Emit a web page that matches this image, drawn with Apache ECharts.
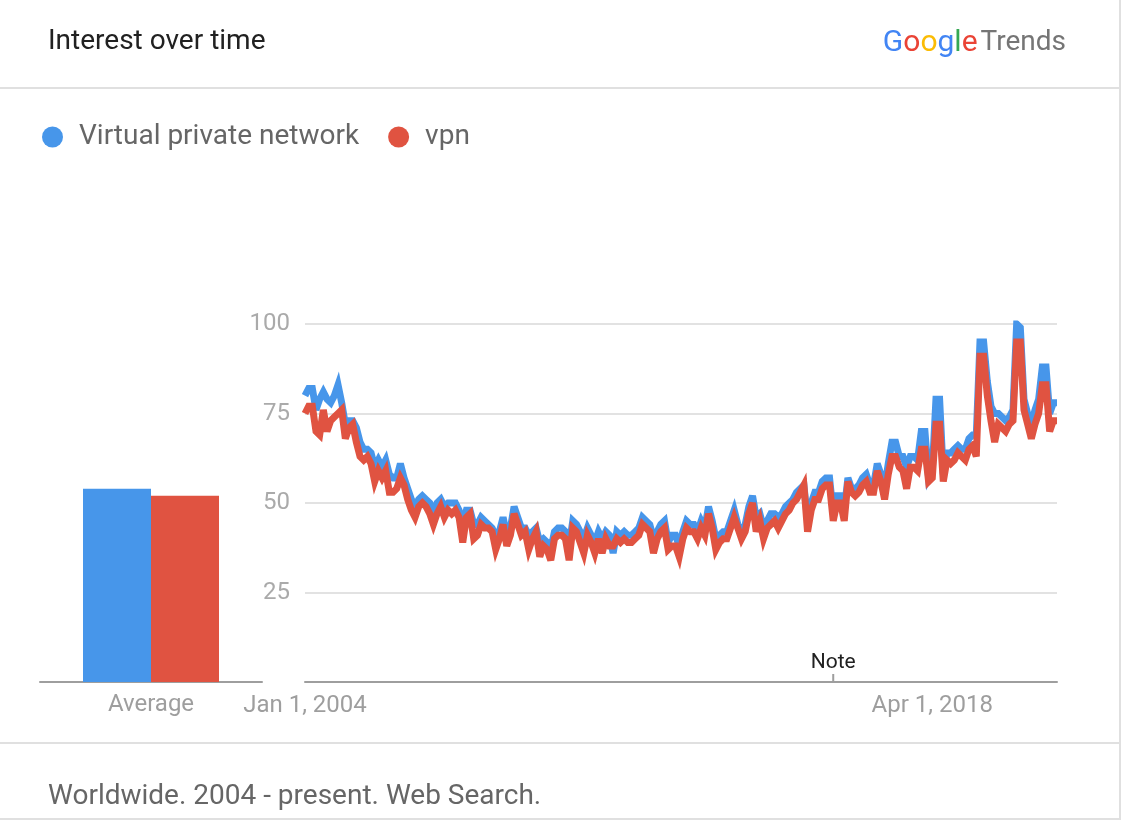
<!DOCTYPE html>
<html>
<head>
<meta charset="utf-8">
<script src="https://cdn.jsdelivr.net/npm/echarts@6/dist/echarts.min.js"></script>
<style>
html,body{margin:0;padding:0;background:#fff;}
#c{width:1124px;height:820px;}
</style>
</head>
<body>
<div id="c"></div>
<script>
// ---- data ----
const seriesNames = ['Virtual private network', 'vpn'];
const vpnTopic = [
80,82,82,76,79,81,79,78,80,83,78,72,
73,73,71,67,65,65,64,60,62,60,62,58,
57,57,61,57,54,51,49,51,52,51,50,47,
50,51,49,50,50,50,48,44,48,48,44,44,
46,45,44,43,41,42,46,41,43,49,46,43,
43,41,42,43,39,40,39,37,42,43,43,42,
38,45,44,42,40,43,41,39,42,40,42,41,
36,42,41,42,41,41,42,43,46,45,44,40,
42,44,45,39,41,41,38,42,45,44,44,42,
45,43,49,45,40,41,42,42,45,48,44,42,
44,49,52,46,47,43,45,47,47,46,47,49,
50,51,53,54,55,45,50,53,53,56,57,57,
47,52,52,48,57,54,54,55,57,58,55,55,
61,58,54,61,67,67,63,63,60,63,63,62,
70,70,57,59,79,79,58,64,64,65,66,65,
65,68,69,69,95,95,84,77,75,75,74,73,
74,76,100,99,79,75,72,76,79,88,88,75,
78,78
];
const vpnTerm = [
75,77,77,70,69,76,70,73,74,75,76,68,
71,72,67,63,62,63,61,56,59,57,59,53,
53,54,57,55,51,48,46,49,50,49,47,44,
47,49,46,48,47,48,46,39,46,47,40,41,
44,43,43,42,37,40,44,38,41,47,44,41,
42,37,40,42,35,38,37,34,40,41,41,40,
34,43,42,39,36,41,39,36,40,36,40,38,
38,40,39,40,39,39,40,41,44,43,42,36,
40,42,43,37,38,38,35,40,43,42,42,40,
43,41,47,43,37,39,40,40,43,46,43,40,
42,47,50,42,45,40,43,44,45,43,45,47,
48,50,51,53,55,42,48,51,51,54,55,55,
45,50,50,45,56,53,52,53,55,56,53,53,
59,56,51,58,63,63,60,59,54,60,60,59,
65,65,56,57,72,72,56,62,61,62,64,63,
62,65,66,63,91,91,80,73,67,72,71,70,
72,73,95,95,76,72,68,72,75,83,83,70,
73,73
];
const averages = [54, 52];
const avgCategory = ['Average'];
const tickIndex = [0, 171];
const tickText = ['Jan 1, 2004', 'Apr 1, 2018'];
const noteIndex = 144;
const noteText = 'Note';
const yTicks = [0, 25, 50, 75, 100];

const months = [];
for (let i = 0; i < vpnTopic.length; i++) {
  const y = 2004 + Math.floor(i / 12), m = i % 12 + 1;
  months.push(y + '-' + (m < 10 ? '0' + m : m));
}

const BLUE = '#4796ea', RED = '#e05341';
const FONT = 'Roboto';
const LW = 7;

const chart = echarts.init(document.getElementById('c'), null, {renderer: 'canvas'});

chart.setOption({
  animation: false,
  backgroundColor: '#fff',
  textStyle: {fontFamily: FONT},
  legend: {
    data: seriesNames,
    left: 37, top: 118,
    icon: 'circle',
    itemWidth: 21, itemHeight: 21,
    itemGap: 29,
    selectedMode: false,
    textStyle: {fontFamily: FONT, fontSize: 28, color: '#666666', padding: [0, 0, 0, 11]}
  },
  grid: [
    {left: 305, right: 67, top: 324, bottom: 138},
    {left: 40, width: 222, top: 324, bottom: 138}
  ],
  xAxis: [
    {
      type: 'category', gridIndex: 0, data: months, boundaryGap: false,
      axisLine: {lineStyle: {color: '#9e9e9e', width: 2}},
      axisTick: {show: false},
      axisLabel: {
        interval: (idx) => tickIndex.indexOf(idx) >= 0,
        formatter: (val, idx) => { const k = tickIndex.indexOf(idx); return k >= 0 ? tickText[k] : ''; },
        color: '#9e9e9e', fontSize: 24, fontFamily: FONT, margin: 12, hideOverlap: false
      },
      splitLine: {show: false}
    },
    {
      type: 'category', gridIndex: 1, data: avgCategory,
      axisLine: {lineStyle: {color: '#9e9e9e', width: 2}},
      axisTick: {show: false},
      axisLabel: {color: '#9e9e9e', fontSize: 24, fontFamily: FONT, margin: 11}
    }
  ],
  yAxis: [
    {
      type: 'value', gridIndex: 0, min: yTicks[0], max: yTicks[yTicks.length - 1], interval: 25,
      axisLine: {show: false}, axisTick: {show: false},
      axisLabel: {formatter: (v) => (v === 0 ? '' : String(v)), color: '#aaaaaa', fontSize: 24, fontFamily: FONT, margin: 15},
      splitLine: {lineStyle: {color: '#e2e2e2', width: 2}}
    },
    {
      type: 'value', gridIndex: 1, min: 0, max: 100, show: false
    }
  ],
  series: [
    {
      name: seriesNames[0], type: 'line', xAxisIndex: 0, yAxisIndex: 0,
      data: vpnTopic, showSymbol: false, symbol: 'none', color: BLUE,
      lineStyle: {color: BLUE, width: LW, join: 'miter', miterLimit: 4}, z: 2
    },
    {
      name: seriesNames[1], type: 'line', xAxisIndex: 0, yAxisIndex: 0,
      data: vpnTerm, showSymbol: false, symbol: 'none', color: RED,
      lineStyle: {color: RED, width: LW, join: 'miter', miterLimit: 4}, z: 3
    },
    {
      name: seriesNames[0], type: 'bar', xAxisIndex: 1, yAxisIndex: 1,
      data: [averages[0]], barWidth: 68, barGap: '0%', color: BLUE,
      itemStyle: {color: BLUE}
    },
    {
      name: seriesNames[1], type: 'bar', xAxisIndex: 1, yAxisIndex: 1,
      data: [averages[1]], barWidth: 68, barGap: '0%', color: RED,
      itemStyle: {color: RED}
    }
  ]
});

// Note marker position from the axis scale
const noteX = chart.convertToPixel({xAxisIndex: 0}, months[noteIndex]);
const baseY = chart.convertToPixel({yAxisIndex: 0}, 0);

chart.setOption({
  graphic: [
    {type: 'text', left: 48, top: 28, style: {text: 'Interest over time', fontFamily: FONT, fontSize: 28, fill: '#212121'}},
    {type: 'text', right: 58, top: 28, style: {
      text: '{b|G}{r|o}{y|o}{b|g}{g|l}{r|e} {t|Trends}',
      fontFamily: FONT,
      rich: {
        b: {fill: '#4285f4', fontSize: 30, fontFamily: FONT},
        r: {fill: '#ea4335', fontSize: 30, fontFamily: FONT},
        y: {fill: '#fbbc05', fontSize: 30, fontFamily: FONT},
        g: {fill: '#34a853', fontSize: 30, fontFamily: FONT},
        t: {fill: '#757575', fontSize: 28, fontFamily: FONT}
      }
    }},
    {type: 'line', shape: {x1: 0, y1: 88, x2: 1120, y2: 88}, style: {stroke: '#e0e0e0', lineWidth: 2}},
    {type: 'line', shape: {x1: 0, y1: 743, x2: 1120, y2: 743}, style: {stroke: '#e0e0e0', lineWidth: 2}},
    {type: 'line', shape: {x1: 0, y1: 819, x2: 1120, y2: 819}, style: {stroke: '#e0e0e0', lineWidth: 2}},
    {type: 'line', shape: {x1: 1120, y1: 0, x2: 1120, y2: 820}, style: {stroke: '#e0e0e0', lineWidth: 2}},
    {type: 'text', left: 48, top: 783, style: {text: 'Worldwide. 2004 - present. Web Search.', fontFamily: FONT, fontSize: 28, fill: '#666666'}},
    {type: 'line', shape: {x1: noteX, y1: baseY - 8, x2: noteX, y2: baseY}, style: {stroke: '#9e9e9e', lineWidth: 2}, z: 10},
    {type: 'text', x: noteX, y: baseY - 19, style: {text: noteText, fontFamily: FONT, fontSize: 21, fill: '#212121', align: 'center', verticalAlign: 'middle'}, z: 10}
  ]
});
</script>
</body>
</html>
